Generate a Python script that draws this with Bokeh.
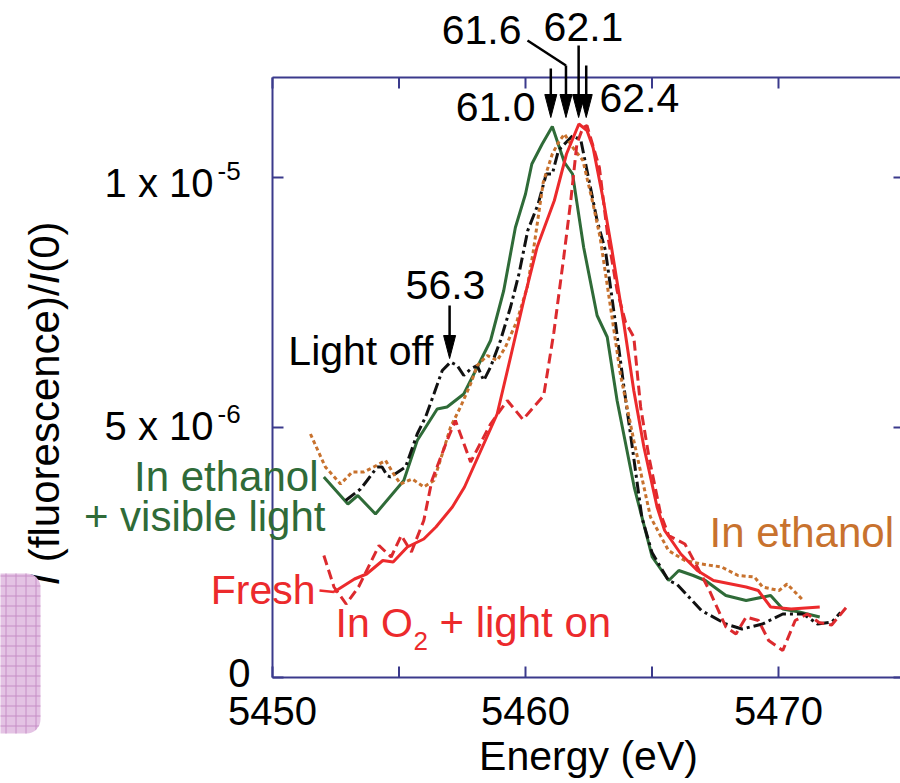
import math
from bokeh.plotting import figure
from bokeh.models import Range1d, Label, Arrow, BoxAnnotation
from bokeh.embed import file_html
from bokeh.resources import INLINE

# ---------------- data (energy in eV, intensity in units of 1e-6) ----------------
energy_ticks = [5450, 5455, 5460, 5465, 5470]
energy_tick_labels = ["5450", "", "5460", "", "5470"]
intensity_ticks = [0, 5, 10]
intensity_tick_mantissa = ["0", "5 x 10", "1 x 10"]
intensity_tick_exponent = ["", "-6", "-5"]

# In ethanol + visible light (green solid)
green_E = [5452.03, 5452.98, 5453.37, 5454.07, 5455.19, 5455.72, 5456.51, 5456.90, 5457.56,
           5457.96, 5458.62, 5459.14, 5459.60, 5460.00, 5460.25, 5460.66, 5461.06, 5461.54,
           5461.86, 5462.30, 5462.83, 5463.23, 5463.62, 5464.30, 5465.01, 5465.66, 5466.06,
           5466.63, 5467.11, 5467.92, 5468.72, 5469.69, 5470.17, 5470.82, 5471.63]
green_I = [4.01, 3.47, 3.64, 3.27, 3.94, 4.74, 5.37, 5.41, 5.67,
           6.07, 6.74, 7.74, 9.00, 9.67, 10.27, 10.67, 11.02, 10.30,
           10.07, 8.60, 7.24, 6.81, 5.54, 3.80, 2.41, 1.94, 2.14,
           2.04, 1.94, 1.64, 1.54, 1.64, 1.37, 1.31, 1.21]

# Light off (black dash-dot)
black_E = [5452.89, 5453.48, 5453.74, 5454.14, 5454.33, 5454.53, 5454.66, 5455.26, 5455.72,
           5456.05, 5456.38, 5456.71, 5457.04, 5457.30, 5457.56, 5457.83, 5458.09, 5458.35,
           5458.62, 5459.01, 5459.41, 5459.74, 5460.09, 5460.50, 5460.82, 5461.06, 5461.30,
           5461.60, 5461.87, 5462.19, 5462.83, 5463.16, 5463.56, 5463.89, 5464.22, 5464.60,
           5465.00, 5465.65, 5465.98, 5466.95, 5467.92, 5468.56, 5469.37, 5470.17, 5470.98,
           5471.54, 5472.11, 5472.45]
black_I = [3.54, 3.77, 3.94, 4.21, 4.21, 4.04, 4.01, 4.21, 4.87,
           5.21, 5.67, 6.14, 6.31, 6.24, 6.04, 6.17, 6.24, 5.94,
           6.21, 6.74, 7.41, 8.07, 8.94, 9.47, 10.07, 10.07, 10.54,
           10.70, 10.84, 10.74, 9.14, 8.54, 7.07, 5.81, 4.61, 3.20,
           2.50, 1.94, 1.87, 1.34, 1.07, 0.97, 1.07, 1.27, 1.27,
           1.07, 1.11, 1.30]

# In ethanol (orange dotted)
orange_E = [5451.50, 5452.09, 5452.69, 5453.15, 5453.61, 5454.00, 5454.47, 5454.79, 5455.06,
            5455.52, 5455.98, 5456.38, 5456.71, 5457.04, 5457.43, 5457.83, 5458.09, 5458.49,
            5458.88, 5459.20, 5459.67, 5460.07, 5460.30, 5460.70, 5461.06, 5461.30, 5461.54,
            5461.87, 5462.27, 5462.67, 5462.95, 5463.36, 5463.75, 5464.28, 5464.94, 5465.65,
            5466.30, 5466.95, 5467.75, 5468.40, 5469.05, 5469.37, 5470.02, 5470.34, 5470.98]
orange_I = [4.87, 4.21, 3.87, 4.11, 4.11, 4.21, 4.34, 4.07, 3.87,
            3.97, 3.81, 3.94, 4.47, 5.01, 5.41, 5.87, 6.24, 6.44,
            6.34, 6.60, 7.14, 7.81, 8.50, 9.90, 10.47, 10.70, 10.87,
            10.60, 10.34, 9.47, 8.80, 7.41, 6.07, 4.74, 3.21, 2.54,
            2.34, 2.27, 2.21, 2.04, 2.01, 1.81, 1.74, 1.87, 1.54]

# Fresh (red solid)
fresh_E = [5452.43, 5453.24, 5453.72, 5454.36, 5454.77, 5455.33, 5455.98, 5456.46, 5457.11,
           5457.59, 5458.88, 5459.41, 5459.93, 5460.46, 5461.14, 5461.62, 5462.11, 5462.43,
           5462.67, 5463.08, 5463.40, 5463.89, 5464.28, 5464.68, 5465.20, 5465.50, 5466.14,
           5466.79, 5467.43, 5468.72, 5469.20, 5469.69, 5470.50, 5471.63]
fresh_I = [1.71, 1.97, 2.07, 2.34, 2.31, 2.61, 2.77, 3.01, 3.41,
           3.81, 5.27, 6.41, 7.54, 8.61, 9.54, 10.47, 11.07, 10.94,
           10.60, 9.54, 8.60, 7.07, 5.74, 4.61, 3.41, 2.94, 2.47,
           2.14, 1.94, 1.81, 1.74, 1.41, 1.37, 1.41]

# In O2 + light on (red dashed)
o2_E = [5452.03, 5452.43, 5452.91, 5453.40, 5454.21, 5454.69, 5455.09, 5455.49, 5455.98,
        5456.30, 5456.90, 5457.23, 5457.83, 5458.62, 5459.28, 5459.90, 5460.72, 5461.12,
        5461.51, 5461.79, 5462.03, 5462.27, 5462.43, 5462.92, 5463.24, 5463.62, 5463.95,
        5464.28, 5464.55, 5464.88, 5465.34, 5465.66, 5466.30, 5466.79, 5467.27, 5467.92,
        5468.32, 5468.72, 5469.21, 5469.61, 5470.17, 5470.66, 5471.14, 5471.60, 5472.10,
        5472.76]
o2_I = [2.44, 1.81, 1.47, 1.81, 2.64, 2.41, 2.84, 2.51, 3.14,
        3.94, 4.74, 5.14, 4.31, 5.07, 5.54, 5.16, 5.64, 6.90,
        8.40, 9.54, 10.67, 11.00, 11.04, 10.20, 8.87, 7.74, 7.11,
        6.81, 5.41, 4.41, 3.27, 2.84, 2.67, 2.21, 1.74, 1.01,
        0.87, 1.21, 1.14, 0.74, 0.54, 1.14, 1.27, 1.10, 1.05,
        1.45]

peak_E = [5461.0, 5461.6, 5462.1, 5462.4]
peak_labels = ["61.0", "61.6", "62.1", "62.4"]
feature_E = 5457.0
feature_label = "56.3"

# ---------------- layout helpers (canvas pixels -> data) ----------------
W, H = 900, 783
PX0, PY0, SX, SY = 272.0, 677.0, 25.3, 50.0
def X(px):
    return 5450 + (px - PX0) / SX
def Y(py):
    return (PY0 - py) / SY

FONT = "Liberation Sans"
FRAME = "#3b3a8c"
GREEN = "#2f6b38"
ORANGE = "#c8722e"
RED = "#ec2a2c"
RED2 = "#dc2a2e"
BASE_K = 0.37   # measured baseline correction (fraction of the font size)

# the frame spans the whole canvas so that the texts and arrows around the box stay visible
p = figure(output_backend="svg", toolbar_location=None, width=W, height=H,
           min_border_left=0, min_border_right=0, min_border_top=0, min_border_bottom=0,
           x_range=Range1d(X(0), X(W)), y_range=Range1d(Y(H), Y(0)),
           x_axis_location=None, y_axis_location=None)
p.outline_line_color = None
p.grid.visible = False
p.background_fill_color = "white"
p.border_fill_color = "white"

# ---------------- plot box and ticks ----------------
x_lo, x_hi = energy_ticks[0], X(904)
y_lo, y_hi = 0.0, 12.0
tick_x, tick_y = 11 / SX, 11 / SY
p.segment(x0=[x_lo, x_lo, x_lo], y0=[y_lo, y_lo, y_hi],
          x1=[x_lo, x_hi, x_hi], y1=[y_hi, y_lo, y_hi],
          line_color=FRAME, line_width=2)
p.segment(x0=energy_ticks, y0=[y_lo] * len(energy_ticks),
          x1=energy_ticks, y1=[y_lo + tick_y] * len(energy_ticks), line_color=FRAME, line_width=2)
p.segment(x0=energy_ticks, y0=[y_hi] * len(energy_ticks),
          x1=energy_ticks, y1=[y_hi - tick_y] * len(energy_ticks), line_color=FRAME, line_width=2)
p.segment(x0=[x_lo] * len(intensity_ticks), y0=intensity_ticks,
          x1=[x_lo + tick_x] * len(intensity_ticks), y1=intensity_ticks, line_color=FRAME, line_width=2)
p.segment(x0=[x_hi] * len(intensity_ticks), y0=intensity_ticks,
          x1=[x_hi - tick_x] * len(intensity_ticks), y1=intensity_ticks, line_color=FRAME, line_width=2)

# ---------------- curves ----------------
p.line(green_E, green_I, line_color=GREEN, line_width=3)
p.line(black_E, black_I, line_color="#111111", line_width=3, line_dash="12 4 3 4")
p.line(orange_E, orange_I, line_color=ORANGE, line_width=3, line_dash="4 3")
p.line(o2_E, o2_I, line_color=RED2, line_width=3, line_dash="10 5")
p.line(fresh_E, fresh_I, line_color=RED, line_width=3)
# leader from the "Fresh" label to its curve
p.line([X(319), fresh_E[0]], [fresh_I[0] + 0.03, fresh_I[0]], line_color=RED, line_width=2.5)

# ---------------- texts ----------------
def lab(text, px, py, size=40, color="black", align="left", style="normal", angle=0.0):
    if angle:
        px = px - BASE_K * size
    else:
        py = py - BASE_K * size
    p.add_layout(Label(x=X(px), y=Y(py), text=text, text_font=FONT,
                       text_font_size=f"{size}px", text_color=color, text_align=align,
                       text_baseline="alphabetic", text_font_style=style, angle=angle))

# x tick labels and title
for t, s in zip(energy_ticks, energy_tick_labels):
    if s:
        lab(s, PX0 + (t - 5450) * SX, 725, size=40, align="center")
lab("Energy (eV)", PX0 + ((x_lo + x_hi) / 2 - 5450) * SX, 771, size=41, align="center")

# y tick labels
ytick_baseline_px = {0: 687, 5: 440, 10: 197}
for v, m, e in zip(intensity_ticks, intensity_tick_mantissa, intensity_tick_exponent):
    if e:
        lab(m, 213, ytick_baseline_px[v], align="right")
        lab(e, 217, ytick_baseline_px[v] - 17, size=26)
    else:
        lab(m, 250, ytick_baseline_px[v], align="right")

# y axis title (rotated, italic I); advances in em of Liberation Sans
pieces = [("I", "italic", 0.556), ("(fluorescence)/", "normal", 6.613),
          ("I", "italic", 0.278), ("(0)", "normal", 1.222)]
ysize = 42
py = 585.0
for t, st, w in pieces:
    lab(t, 60, py, size=ysize, style=st, angle=math.pi / 2)
    py -= w * ysize

# peak annotations
lab(peak_labels[1], 521, 45, size=41, align="right")
lab(peak_labels[2], 583, 42, size=41, align="center")
lab(peak_labels[0], 535, 122, size=41, align="right")
lab(peak_labels[3], 599, 113, size=41, align="left")
lab(feature_label, 445, 300, size=41, align="center")

lab("Light off", 433, 366, size=41, align="right")
lab("In ethanol", 318, 492, size=42, color=GREEN, align="right")
lab("+ visible light", 325, 532, size=42, color=GREEN, align="right")
lab("Fresh", 315, 605, size=41, color=RED, align="right")
lab("In O", 335, 638, size=41, color=RED)
lab("2", 413, 650, size=26, color=RED)
lab("+ light on", 439, 638, size=42, color=RED)
lab("In ethanol", 709, 548, size=42, color=ORANGE)

# ---------------- arrows ----------------
tip_py, head_len, head_half = 117, 23, 6
shaft_top_py = [68, 65, 45, 65]
for E, top in zip(peak_E, shaft_top_py):
    p.add_layout(Arrow(end=None, x_start=E, y_start=Y(top), x_end=E, y_end=Y(tip_py - head_len + 2),
                       line_color="black", line_width=2.5))
p.add_layout(Arrow(end=None, x_start=X(527), y_start=Y(40), x_end=peak_E[1], y_end=Y(65),
                   line_color="black", line_width=2.5))
head_xs = [[E - head_half / SX, E + head_half / SX, E] for E in peak_E]
head_ys = [[Y(tip_py - head_len), Y(tip_py - head_len), Y(tip_py)] for E in peak_E]
f_tip = 358
p.add_layout(Arrow(end=None, x_start=feature_E, y_start=Y(305), x_end=feature_E,
                   y_end=Y(f_tip - head_len + 2), line_color="black", line_width=2.5))
head_xs.append([feature_E - head_half / SX, feature_E + head_half / SX, feature_E])
head_ys.append([Y(f_tip - head_len), Y(f_tip - head_len), Y(f_tip)])
p.patches(head_xs, head_ys, fill_color="black", line_color="black", line_width=1)

# decorative pink grid tab at the lower left
p.add_layout(BoxAnnotation(left=X(-30), right=X(40), top=Y(573), bottom=Y(733),
                           fill_color="#e4c3e4", fill_alpha=1.0, line_color=None,
                           hatch_pattern="+", hatch_color="#c68ec6", hatch_scale=10,
                           hatch_weight=1, hatch_alpha=1.0, border_radius=14))

open("out.html", "w").write(file_html(p, INLINE))
